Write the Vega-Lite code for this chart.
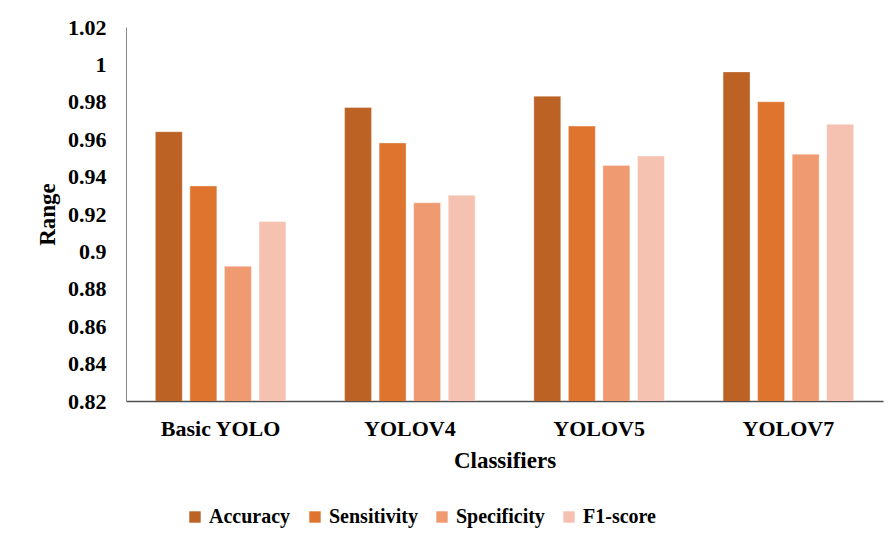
{
  "$schema": "https://vega.github.io/schema/vega-lite/v6.json",
  "width": 757,
  "height": 374,
  "autosize": {"type": "none"},
  "padding": {"left": 126, "top": 27, "right": 10, "bottom": 144},
  "background": "white",
  "data": {
    "values": [
      {"classifier": "Basic YOLO", "metric": "Accuracy", "value": 0.964},
      {"classifier": "Basic YOLO", "metric": "Sensitivity", "value": 0.935},
      {"classifier": "Basic YOLO", "metric": "Specificity", "value": 0.892},
      {"classifier": "Basic YOLO", "metric": "F1-score", "value": 0.916},
      {"classifier": "YOLOV4", "metric": "Accuracy", "value": 0.977},
      {"classifier": "YOLOV4", "metric": "Sensitivity", "value": 0.958},
      {"classifier": "YOLOV4", "metric": "Specificity", "value": 0.926},
      {"classifier": "YOLOV4", "metric": "F1-score", "value": 0.930},
      {"classifier": "YOLOV5", "metric": "Accuracy", "value": 0.983},
      {"classifier": "YOLOV5", "metric": "Sensitivity", "value": 0.967},
      {"classifier": "YOLOV5", "metric": "Specificity", "value": 0.946},
      {"classifier": "YOLOV5", "metric": "F1-score", "value": 0.951},
      {"classifier": "YOLOV7", "metric": "Accuracy", "value": 0.996},
      {"classifier": "YOLOV7", "metric": "Sensitivity", "value": 0.980},
      {"classifier": "YOLOV7", "metric": "Specificity", "value": 0.952},
      {"classifier": "YOLOV7", "metric": "F1-score", "value": 0.968}
    ]
  },
  "mark": {"type": "bar", "clip": true, "stroke": "#ffffff", "strokeOpacity": 0.35, "strokeWidth": 1},
  "encoding": {
    "x": {
      "field": "classifier",
      "type": "nominal",
      "sort": null,
      "title": "Classifiers",
      "scale": {"paddingInner": 0.31, "paddingOuter": 0.155},
      "axis": {
        "labelAngle": 0,
        "ticks": false,
        "labelPadding": 17,
        "labelFontSize": 22,
        "titleFontSize": 23,
        "titlePadding": 10,
        "domainColor": "#505050",
        "domainWidth": 1.5
      }
    },
    "xOffset": {
      "field": "metric",
      "type": "nominal",
      "sort": ["Accuracy", "Sensitivity", "Specificity", "F1-score"],
      "scale": {"paddingInner": 0.22, "paddingOuter": 0}
    },
    "y": {
      "field": "value",
      "type": "quantitative",
      "title": "Range",
      "scale": {"domain": [0.82, 1.02], "zero": false, "nice": false},
      "axis": {
        "values": [0.82, 0.84, 0.86, 0.88, 0.9, 0.92, 0.94, 0.96, 0.98, 1, 1.02],
        "format": ".2~f",
        "grid": false,
        "ticks": false,
        "labelPadding": 20,
        "labelFontSize": 22,
        "titleFontSize": 23,
        "titlePadding": 8,
        "domainColor": "#888888",
        "domainWidth": 1
      }
    },
    "color": {
      "field": "metric",
      "type": "nominal",
      "sort": ["Accuracy", "Sensitivity", "Specificity", "F1-score"],
      "scale": {
        "domain": ["Accuracy", "Sensitivity", "Specificity", "F1-score"],
        "range": ["#BB6224", "#DF742E", "#F09A72", "#F5C2B2"]
      },
      "legend": {
        "title": null,
        "orient": "none",
        "direction": "horizontal",
        "legendX": 59,
        "legendY": 480,
        "symbolType": "square",
        "symbolSize": 130,
        "symbolStrokeWidth": 0,
        "labelFontSize": 20,
        "labelOffset": 4,
        "columnPadding": 14
      }
    }
  },
  "config": {
    "font": "Liberation Serif",
    "view": {"stroke": null},
    "axis": {
      "labelFont": "Liberation Serif",
      "labelFontWeight": "bold",
      "labelColor": "#000000",
      "titleFont": "Liberation Serif",
      "titleFontWeight": "bold",
      "titleColor": "#000000"
    },
    "legend": {
      "labelFont": "Liberation Serif",
      "labelFontWeight": "bold",
      "labelColor": "#000000"
    }
  }
}
